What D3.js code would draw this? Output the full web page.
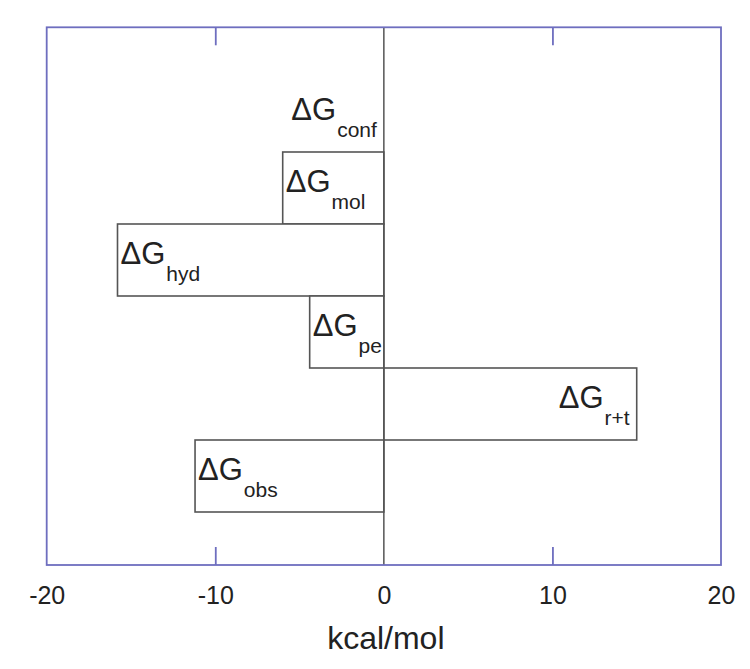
<!DOCTYPE html>
<html>
<head>
<meta charset="utf-8">
<script src="https://cdn.jsdelivr.net/npm/d3@7"></script>
<style>
  html, body { margin: 0; padding: 0; background: #fff; }
  svg { display: block; font-family: "Liberation Sans", Arial, sans-serif; }
</style>
</head>
<body>
<svg id="chart" width="750" height="669"></svg>
<script>
// Data
const categories = ["conf", "mol", "hyd", "pe", "r+t", "obs"];
const values = [0, -6.0, -15.8, -4.4, 15.0, -11.2];
const tickValues = [-20, -10, 0, 10, 20];
const axisTitle = "kcal/mol";

(function () {
const svg = d3.select("#chart");
const mLeft = 46.7, mRight = 721, mTop = 27.3, mBottom = 565;
const frameColor = "#6e6ebf";
const barColor = "#555555";

const x = d3.scaleLinear().domain([-20, 20]).range([mLeft, mRight]);
const y = d3.scaleBand().domain(categories).range([80, 512]).padding(0);

// Bars
const data = categories.map((c, i) => ({ cat: c, v: values[i] }));
svg.append("g").selectAll("rect")
  .data(data.filter(d => d.v !== 0))
  .join("rect")
  .attr("x", d => x(Math.min(0, d.v)))
  .attr("y", d => y(d.cat))
  .attr("width", d => Math.abs(x(d.v) - x(0)))
  .attr("height", y.bandwidth())
  .attr("fill", "#fff")
  .attr("stroke", barColor)
  .attr("stroke-width", 1.6);

// Zero line
svg.append("line")
  .attr("x1", x(0)).attr("x2", x(0))
  .attr("y1", mTop).attr("y2", mBottom)
  .attr("stroke", "#555").attr("stroke-width", 1.5);

// Frame
svg.append("rect")
  .attr("x", mLeft).attr("y", mTop)
  .attr("width", mRight - mLeft).attr("height", mBottom - mTop)
  .attr("fill", "none").attr("stroke", frameColor).attr("stroke-width", 1.8);

// Bottom axis
const bottomAxis = d3.axisBottom(x).tickValues(tickValues).tickSizeInner(-18).tickSizeOuter(0).tickPadding(31);
const gB = svg.append("g").attr("transform", `translate(0,${mBottom})`).call(bottomAxis);
gB.select(".domain").remove();
gB.selectAll(".tick line")
  .attr("stroke", frameColor).attr("stroke-width", 1.8)
  .attr("display", d => (d === -20 || d === 20 || d === 0) ? "none" : null);
gB.selectAll(".tick text")
  .attr("fill", "#222").attr("font-size", 25)
  .attr("font-family", "'Liberation Sans', Arial, sans-serif")
  .attr("dy", "0.3em")
  .text(d => d < 0 ? "-" + Math.abs(d) : String(d));

// Top ticks
const topAxis = d3.axisTop(x).tickValues([-10, 10]).tickSizeInner(-18).tickSizeOuter(0).tickFormat("");
const gT = svg.append("g").attr("transform", `translate(0,${mTop})`).call(topAxis);
gT.select(".domain").remove();
gT.selectAll(".tick line").attr("stroke", frameColor).attr("stroke-width", 1.8);

// Axis title
svg.append("text")
  .attr("x", x(0) + 2).attr("y", 649)
  .attr("text-anchor", "middle")
  .attr("font-size", 32)
  .attr("fill", "#222")
  .text(axisTitle);

// Labels ΔG_sub
const lab = svg.append("g").selectAll("text")
  .data(data)
  .join("text")
  .attr("fill", "#222")
  .attr("text-anchor", d => d.v >= 0 ? "end" : "start")
  .attr("x", d => d.v >= 0 ? x(d.v) - 7 : x(d.v) + 3)
  .attr("y", d => y(d.cat) + 40);
lab.append("tspan").attr("font-size", 31).text("ΔG");
lab.append("tspan").attr("font-size", 21).attr("dy", 17).attr("dx", 1).text(d => d.cat);
})();
</script>
</body>
</html>
